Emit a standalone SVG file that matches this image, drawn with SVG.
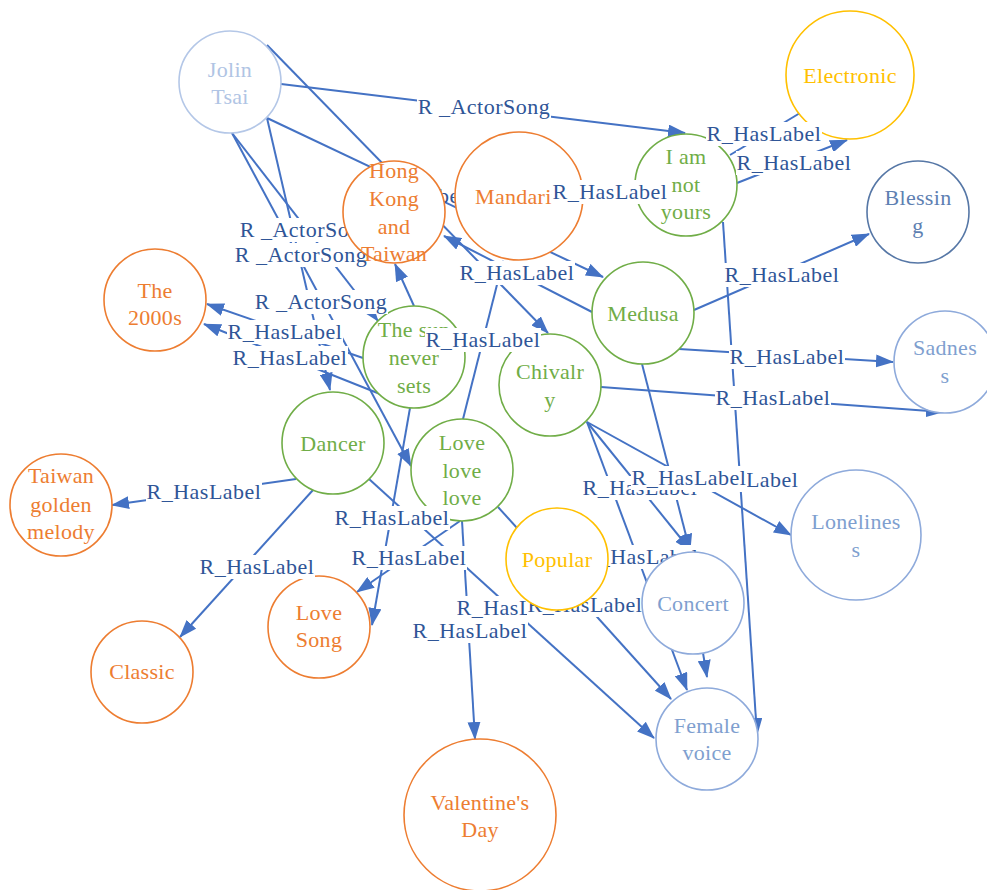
<svg xmlns="http://www.w3.org/2000/svg" width="987" height="890" viewBox="0 0 987 890">
<defs>
<marker id="ah" markerUnits="userSpaceOnUse" markerWidth="18" markerHeight="13" viewBox="0 0 18 13" refX="17" refY="6.5" orient="auto">
<path d="M0,0 L18,6.5 L0,13 Z" fill="#4472c4"/>
</marker>
</defs>
<style>
.e{stroke:#4472c4;stroke-width:2;fill:none;marker-end:url(#ah)}
.en{stroke:#4472c4;stroke-width:2;fill:none}
.lb rect{fill:#fff}
.lb text{font-family:"Liberation Serif","Times New Roman",serif;font-size:22px;fill:#2f5597;text-anchor:middle;letter-spacing:0.5px}
.n circle{fill:#fff;stroke-width:1.6}
.n text{font-family:"Liberation Serif","Times New Roman",serif;font-size:22px;text-anchor:middle;letter-spacing:0.3px}
.or circle{stroke:#ed7d31}.or text{fill:#ed7d31}
.gr circle{stroke:#70ad47}.gr text{fill:#70ad47}
.go circle{stroke:#ffc000}.go text{fill:#ffc000}
.jo circle{stroke:#b4c7e7}.jo text{fill:#b0c4e4}
.db circle{stroke:#5677a6}.db text{fill:#5e80b2}
.lt circle{stroke:#8eaadb}.lt text{fill:#7f9fcf}
</style>
<rect width="987" height="890" fill="#fff"/>
<g id="connectors">
<line class="e" x1="281" y1="84" x2="685" y2="133"/>
<line class="e" x1="267" y1="45" x2="548" y2="333"/>
<line class="e" x1="267" y1="118" x2="603" y2="277"/>
<line class="e" x1="267" y1="118" x2="330" y2="390"/>
<line class="e" x1="232" y1="133" x2="378" y2="321"/>
<line class="e" x1="232" y1="133" x2="411" y2="466"/>
<line class="en" x1="730" y1="155" x2="800" y2="113"/>
<line class="e" x1="737" y1="183" x2="847" y2="140"/>
<line class="e" x1="723" y1="222" x2="757" y2="735"/>
<line class="e" x1="592" y1="312" x2="444" y2="236"/>
<line class="e" x1="694" y1="310" x2="869" y2="234"/>
<line class="e" x1="679" y1="349" x2="893" y2="362"/>
<line class="e" x1="642" y1="364" x2="690" y2="551"/>
<line class="e" x1="601" y1="387" x2="943" y2="412"/>
<line class="e" x1="587" y1="422" x2="791" y2="535"/>
<line class="e" x1="587" y1="422" x2="691" y2="551"/>
<line class="e" x1="587" y1="422" x2="687" y2="690"/>
<line class="e" x1="463" y1="419" x2="503" y2="261"/>
<line class="e" x1="414" y1="306" x2="395" y2="264"/>
<line class="e" x1="363" y1="358" x2="207" y2="304"/>
<line class="e" x1="380" y1="394" x2="204" y2="324"/>
<line class="e" x1="410" y1="408" x2="372" y2="625"/>
<line class="e" x1="296" y1="479" x2="112" y2="505"/>
<line class="e" x1="313" y1="490" x2="180" y2="637"/>
<line class="e" x1="369" y1="479" x2="654" y2="738"/>
<line class="e" x1="460" y1="521" x2="357" y2="592"/>
<line class="e" x1="462" y1="521" x2="475" y2="739"/>
<line class="e" x1="498" y1="507" x2="671" y2="699"/>
<line class="e" x1="703" y1="653" x2="707" y2="677"/>
</g>
<g id="labels-under">
<g class="lb"><text x="409" y="203">R_HasLabel</text></g>
<g class="lb"><rect x="239" y="218" width="134" height="24"/><text x="306" y="237">R _ActorSong</text></g>
<g class="lb"><rect x="234" y="243" width="134" height="24"/><text x="301" y="262">R _ActorSong</text></g>
<g class="lb"><rect x="583" y="545" width="116" height="24"/><text x="641" y="564">R_HasLabel</text></g>
<g class="lb"><rect x="456" y="596" width="116" height="24"/><text x="514" y="615">R_HasLabel</text></g>
<g class="lb"><rect x="527" y="593" width="116" height="24"/><text x="585" y="612">R_HasLabel</text></g>
</g>
<g id="jolin" class="n jo"><circle cx="230" cy="82" r="51"/><text x="230" y="77">Jolin</text><text x="230" y="104">Tsai</text></g>
<g id="electronic" class="n go"><circle cx="850" cy="75" r="64"/><text x="850" y="83">Electronic</text></g>
<g id="hongkong" class="n or"><circle cx="394" cy="212" r="51"/><text x="394" y="178">Hong</text><text x="394" y="206">Kong</text><text x="394" y="234">and</text><text x="394" y="261">Taiwan</text></g>
<g id="mandarin" class="n or"><circle cx="519" cy="196" r="64"/><text x="519" y="204">Mandarin</text></g>
<g id="iamnotyours" class="n gr"><circle cx="686" cy="185" r="51"/><text x="686" y="164">I am</text><text x="686" y="192">not</text><text x="686" y="219">yours</text></g>
<g id="blessing" class="n db"><circle cx="918" cy="212" r="51"/><text x="918" y="205">Blessin</text><text x="918" y="233">g</text></g>
<g id="medusa" class="n gr"><circle cx="643" cy="313" r="51"/><text x="643" y="321">Medusa</text></g>
<g id="sadness" class="n lt"><circle cx="945" cy="362" r="51"/><text x="945" y="355">Sadnes</text><text x="945" y="383">s</text></g>
<g id="the2000s" class="n or"><circle cx="155" cy="300" r="51"/><text x="155" y="298">The</text><text x="155" y="325">2000s</text></g>
<g id="thesun" class="n gr"><circle cx="414" cy="357" r="51"/><text x="414" y="337">The sun</text><text x="414" y="365">never</text><text x="414" y="393">sets</text></g>
<g id="chivalry" class="n gr"><circle cx="550" cy="385" r="51"/><text x="550" y="379">Chivalr</text><text x="550" y="407">y</text></g>
<g id="dancer" class="n gr"><circle cx="333" cy="443" r="51"/><text x="333" y="451">Dancer</text></g>
<g id="lovelovelove" class="n gr"><circle cx="462" cy="470" r="51"/><text x="462" y="450">Love</text><text x="462" y="478">love</text><text x="462" y="505">love</text></g>
<g id="taiwangolden" class="n or"><circle cx="61" cy="505" r="51"/><text x="61" y="483">Taiwan</text><text x="61" y="512">golden</text><text x="61" y="539">melody</text></g>
<g id="loneliness" class="n lt"><circle cx="856" cy="535" r="65"/><text x="856" y="529">Lonelines</text><text x="856" y="557">s</text></g>
<g id="popular" class="n go"><circle cx="557" cy="559" r="51"/><text x="557" y="567">Popular</text></g>
<g id="lovesong" class="n or"><circle cx="319" cy="627" r="51"/><text x="319" y="620">Love</text><text x="319" y="647">Song</text></g>
<g id="classic" class="n or"><circle cx="142" cy="672" r="51"/><text x="142" y="679">Classic</text></g>
<g id="concert" class="n lt"><circle cx="693" cy="603" r="51"/><text x="693" y="611">Concert</text></g>
<g id="femalevoice" class="n lt"><circle cx="707" cy="739" r="51"/><text x="707" y="733">Female</text><text x="707" y="760">voice</text></g>
<g id="valentines" class="n or"><circle cx="480" cy="815" r="76"/><text x="480" y="810">Valentine's</text><text x="480" y="837">Day</text></g>
<g id="labels-over">
<g class="lb"><rect x="417" y="95" width="134" height="24"/><text x="484" y="114">R _ActorSong</text></g>
<g class="lb"><rect x="706" y="122" width="116" height="24"/><text x="764" y="141">R_HasLabel</text></g>
<g class="lb"><rect x="736" y="151" width="116" height="24"/><text x="794" y="170">R_HasLabel</text></g>
<g class="lb"><rect x="552" y="180" width="116" height="24"/><text x="610" y="199">R_HasLabel</text></g>
<g class="lb"><rect x="459" y="261" width="116" height="24"/><text x="517" y="280">R_HasLabel</text></g>
<g class="lb"><rect x="724" y="263" width="116" height="24"/><text x="782" y="282">R_HasLabel</text></g>
<g class="lb"><rect x="254" y="290" width="134" height="24"/><text x="321" y="309">R _ActorSong</text></g>
<g class="lb"><rect x="227" y="320" width="116" height="24"/><text x="285" y="339">R_HasLabel</text></g>
<g class="lb"><rect x="425" y="328" width="116" height="24"/><text x="483" y="347">R_HasLabel</text></g>
<g class="lb"><rect x="232" y="346" width="116" height="24"/><text x="290" y="365">R_HasLabel</text></g>
<g class="lb"><rect x="729" y="345" width="116" height="24"/><text x="787" y="364">R_HasLabel</text></g>
<g class="lb"><rect x="715" y="386" width="116" height="24"/><text x="773" y="405">R_HasLabel</text></g>
<g class="lb"><rect x="582" y="476" width="116" height="24"/><text x="640" y="495">R_HasLabel</text></g>
<g class="lb"><rect x="683" y="468" width="116" height="24"/><text x="741" y="487">R_HasLabel</text></g>
<g class="lb"><rect x="631" y="466" width="116" height="24"/><text x="689" y="485">R_HasLabel</text></g>
<g class="lb"><rect x="146" y="480" width="116" height="24"/><text x="204" y="499">R_HasLabel</text></g>
<g class="lb"><rect x="334" y="506" width="116" height="24"/><text x="392" y="525">R_HasLabel</text></g>
<g class="lb"><rect x="351" y="546" width="116" height="24"/><text x="409" y="565">R_HasLabel</text></g>
<g class="lb"><rect x="199" y="555" width="116" height="24"/><text x="257" y="574">R_HasLabel</text></g>
<g class="lb"><rect x="412" y="619" width="116" height="24"/><text x="470" y="638">R_HasLabel</text></g>
</g>
</svg>
